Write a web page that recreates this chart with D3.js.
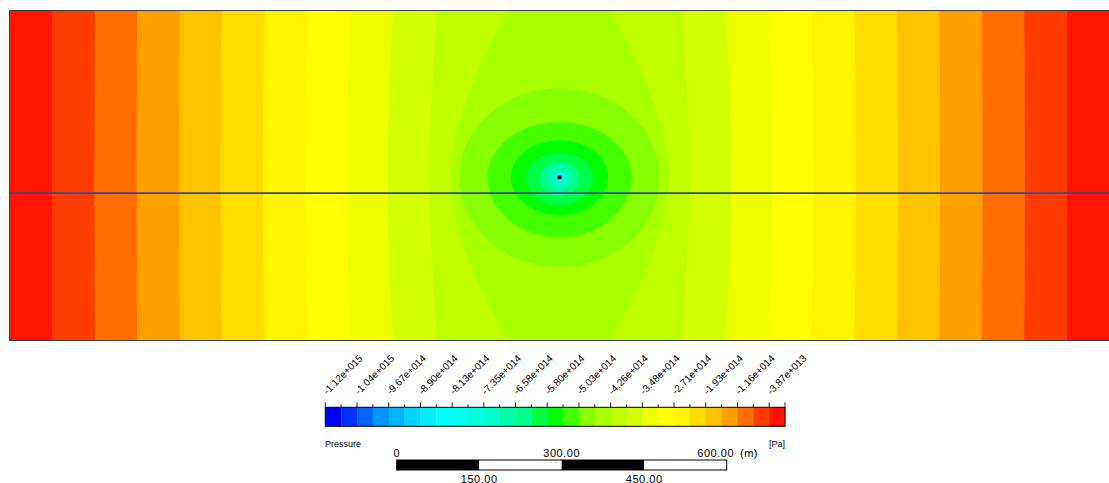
<!DOCTYPE html>
<html><head><meta charset="utf-8">
<script src="https://cdn.jsdelivr.net/npm/d3@7"></script>
<style>html,body{margin:0;padding:0;background:#fff;} svg{display:block;}</style>
</head><body>
<svg id="chart" width="1109" height="483"></svg>
<script>
// ---------------- data ----------------
const tickLabels = ["-1.12e+015","-1.04e+015","-9.67e+014","-8.90e+014","-8.13e+014","-7.35e+014","-6.58e+014","-5.80e+014","-5.03e+014","-4.26e+014","-3.48e+014","-2.71e+014","-1.93e+014","-1.16e+014","-3.87e+013"];
const bandCount = 29;          // colour bands in the legend
const bandColors = ["#0000FF","#0033FF","#0066FF","#0094FF","#00B4FF","#00D4FF","#00EEFF","#00FFFF","#00FFEE","#00FFDD","#00FFCC","#00FFAA","#00FF88","#00FF44","#00FF00","#44FF00","#88FF00","#AAFF00","#BEFF00","#D4FF00","#EEFF00","#FFFF00","#FFF500","#FFDD00","#FFC300","#FF9F00","#FF6E00","#FF3C00","#FF1400"];
// domain in metres
const domainX = [0, 2000];
const domainY = [0, 600];
const wellX = 1000, wellY = 297;
const lineY = 268;
// vertical contour strips: level index, half width (m) from well axis at top / mid / bottom
const stripLevels  = [28, 27, 26, 25, 24, 23, 22, 21, 20, 19, 18];
const stripTop     = [923, 845, 768, 691, 614, 536, 458, 381, 303, 223, 93];
const stripMid     = [923, 846, 769, 692, 616, 539, 462, 387, 312, 236, 198];
const stripBottom  = [923, 845, 768, 691, 614, 536, 458, 381, 303, 223, 93];
// closed contours round the well: level index, half width, height above, depth below (m)
const ringLevels = [17, 16, 15, 14, 13, 12, 11, 10, 9];
const ringHalfW  = [182, 131, 88, 61, 36, 25, 16, 10, 6];
const ringUp     = [162, 100, 67, 45, 29, 22, 15, 9, 6];
const ringDown   = [164, 109, 69, 51, 35, 22, 15, 9, 6];
// scale bar
const scaleMarks  = [0, 150, 300, 450, 600];
const scaleLabels = ["0", "150.00", "300.00", "450.00", "600.00"];

// ---------------- drawing ----------------
const svg = d3.select("#chart");
const font = "'Liberation Sans', Arial, sans-serif";
const x = d3.scaleLinear().domain(domainX).range([9.5, 1109.5]);
const y = d3.scaleLinear().domain(domainY).range([340.5, 10.5]);

svg.append("defs").append("clipPath").attr("id","plotclip")
  .append("rect").attr("x", x(0)).attr("y", y(600)).attr("width", x(2000)-x(0)).attr("height", y(0)-y(600));

const plot = svg.append("g").attr("clip-path","url(#plotclip)");
plot.append("rect").attr("x", x(0)).attr("y", y(600)).attr("width", x(2000)-x(0)).attr("height", y(0)-y(600))
  .attr("fill", bandColors[28]);

const area = d3.area().y(d => y(d[0])).x0(d => x(wellX - d[1])).x1(d => x(wellX + d[1])).curve(d3.curveNatural);
stripLevels.forEach((lev, j) => {
  const pts = [[600, stripTop[j]], [wellY, stripMid[j]], [0, stripBottom[j]]];
  plot.append("path").attr("d", area(pts)).attr("fill", bandColors[lev - 1]);
});

function ringPath(hw, up, down) {
  const cx = x(wellX), cy = y(wellY);
  const rx = x(wellX + hw) - cx, ru = cy - y(wellY + up), rd = y(wellY - down) - cy;
  return `M${cx-rx},${cy} A${rx},${ru} 0 0 1 ${cx+rx},${cy} A${rx},${rd} 0 0 1 ${cx-rx},${cy} Z`;
}
ringLevels.forEach((lev, j) => {
  plot.append("path").attr("d", ringPath(ringHalfW[j], ringUp[j], ringDown[j])).attr("fill", bandColors[lev - 1]);
});

plot.append("line").attr("x1", x(0)).attr("x2", x(2000)).attr("y1", y(lineY)).attr("y2", y(lineY))
  .attr("stroke", "#3346a0").attr("stroke-width", 1.6);
plot.append("circle").attr("cx", x(wellX)).attr("cy", y(wellY)).attr("r", 2.2).attr("fill", "#000");

svg.append("rect").attr("x", x(0)).attr("y", y(600)).attr("width", x(2000)-x(0)).attr("height", y(0)-y(600))
  .attr("fill","none").attr("stroke","#3c3c3c").attr("stroke-width",1);

// ---------------- legend colour bar ----------------
const bar = d3.scaleLinear().domain([0, bandCount]).range([325.3, 785]);
const barTop = 407.3, barH = 19;
const legend = svg.append("g");
d3.range(bandCount).forEach(i => {
  legend.append("rect").attr("x", bar(i)).attr("y", barTop).attr("width", bar(i+1)-bar(i)+0.3).attr("height", barH)
    .attr("fill", bandColors[i]);
});
legend.append("rect").attr("x", bar(0)).attr("y", barTop).attr("width", bar(bandCount)-bar(0)).attr("height", barH)
  .attr("fill","none").attr("stroke","#000").attr("stroke-width",1);
d3.range(bandCount + 1).forEach(k => {
  const major = (k % 2 === 0) || k === bandCount;
  legend.append("line").attr("x1", bar(k)).attr("x2", bar(k)).attr("y1", barTop - (major ? 5 : 3)).attr("y2", barTop)
    .attr("stroke","#222").attr("stroke-width",1);
});
tickLabels.forEach((t, i) => {
  legend.append("text").attr("transform", `translate(${bar(2*i)+2},${395}) rotate(-45)`)
    .attr("font-family", font).attr("font-size", 10).attr("fill","#000").text(t);
});
legend.append("text").attr("x", 325).attr("y", 446.5).attr("font-family", font).attr("font-size", 9).text("Pressure");
legend.append("text").attr("x", 785).attr("y", 446.5).attr("text-anchor","end").attr("font-family", font).attr("font-size", 9).text("[Pa]");

// ---------------- scale bar ----------------
const sb = d3.scaleLinear().domain([0, 600]).range([396.7, 396.7 + (x(600) - x(0))]);
const sbTop = 460, sbH = 10;
for (let i = 0; i < scaleMarks.length - 1; i++) {
  legend.append("rect").attr("x", sb(scaleMarks[i])).attr("y", sbTop).attr("width", sb(scaleMarks[i+1]) - sb(scaleMarks[i])).attr("height", sbH)
    .attr("fill", i % 2 === 0 ? "#000" : "#fff");
}
legend.append("rect").attr("x", sb(0)).attr("y", sbTop).attr("width", sb(600)-sb(0)).attr("height", sbH)
  .attr("fill","none").attr("stroke","#000").attr("stroke-width",1);
scaleMarks.forEach((m, i) => {
  const top = i % 2 === 0;
  legend.append("text").attr("x", sb(m) - (i === 4 ? 11 : 0)).attr("y", top ? 456.5 : 482.5)
    .attr("text-anchor","middle").attr("font-family", font).attr("font-size", 11).attr("letter-spacing", 0.5).text(scaleLabels[i]);
});
legend.append("text").attr("x", 740).attr("y", 456.5).attr("font-family", font).attr("font-size", 11).attr("letter-spacing", 0.5).text("(m)");
</script>
</body></html>
